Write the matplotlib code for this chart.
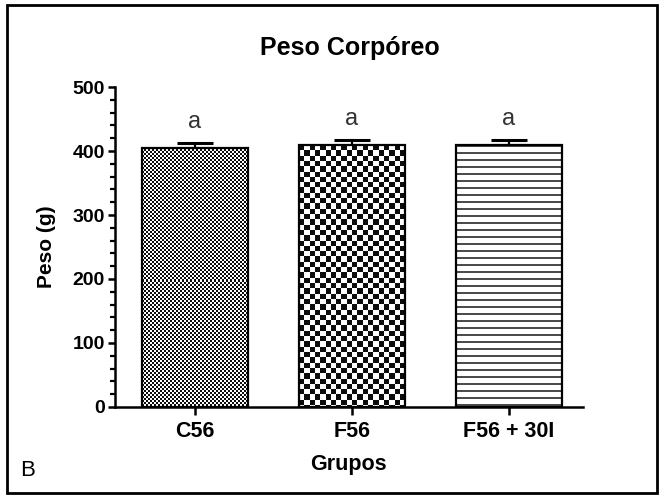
import numpy as np
import matplotlib
matplotlib.use("Agg")
import matplotlib.pyplot as plt
from matplotlib.patches import Rectangle

plt.rcParams['font.family'] = ['Liberation Sans', 'DejaVu Sans']

grupos = ["C56", "F56", "F56 + 30I"]
peso = [405, 409, 409]
erro = [7, 8, 8]
letras = ["a", "a", "a"]

fig = plt.figure(figsize=(6.6, 4.95), dpi=100)
ax = fig.add_axes([0.174, 0.178, 0.709, 0.646])

x = np.arange(len(grupos))
bars = ax.bar(x, peso, width=0.68, color="white", edgecolor="none", zorder=2)
ax.bar(x, peso, width=0.68, fill=False, edgecolor="black", linewidth=1.6, zorder=3)
ax.errorbar(x, peso, yerr=[np.zeros(len(erro)), erro], fmt="none",
            ecolor="black", elinewidth=1.6, capsize=13, capthick=2.2, zorder=1)

ax.set_xlim(-0.51, 2.47)
ax.set_ylim(0, 500)
fig.canvas.draw()


# pattern fill for each bar (fine checker, coarse checker, horizontal lines)
def pattern(kind, w, h, c):
    ny, nx = int(h / c) + 1, int(w / c) + 1
    if kind == "lines":
        rows = np.ones(ny)
        rows[np.arange(ny) % 7 < 2] = 0.3
        return np.tile(rows[:, None], (1, 4))
    yy, xx = np.mgrid[0:ny, 0:nx]
    return np.where((xx + yy) % 2 == 0, 0.05, 1.0)


kinds = ["fine", "coarse", "lines"]
cells = [2, 5.3, 1]
for b, k, c in zip(bars, kinds, cells):
    x0, y0 = b.get_x(), b.get_y()
    x1, y1 = x0 + b.get_width(), y0 + b.get_height()
    p0 = ax.transData.transform((x0, y0))
    p1 = ax.transData.transform((x1, y1))
    img = pattern(k, p1[0] - p0[0], p1[1] - p0[1], c)
    iy, ix = img.shape
    hdat = iy * c * (y1 - y0) / (p1[1] - p0[1])
    wdat = ix * c * (x1 - x0) / (p1[0] - p0[0]) if k != "lines" else (x1 - x0)
    ext = (x0, x0 + wdat, y1 - hdat, y1)
    im = ax.imshow(img, cmap="gray", vmin=0, vmax=1, extent=ext,
                   interpolation="nearest", aspect="auto", zorder=2.5,
                   origin="upper")
    im.set_clip_path(b)

ax.set_xlim(-0.51, 2.47)
ax.set_ylim(0, 500)

for xi, v, e, t in zip(x, peso, erro, letras):
    ax.text(xi, v + e + 16, t, ha="center", va="bottom", fontsize=17,
            color="#333333")

ax.spines["top"].set_visible(False)
ax.spines["right"].set_visible(False)
ax.spines["left"].set_linewidth(1.8)
ax.spines["bottom"].set_linewidth(1.8)

ax.set_yticks(np.arange(0, 501, 100))
ax.set_yticks(np.arange(0, 501, 20), minor=True)
ax.set_xticks(x)
ax.set_xticklabels(grupos)
ax.tick_params(axis="y", which="major", length=5, width=1.8, labelsize=14, pad=2)
ax.tick_params(axis="y", which="minor", length=3.5, width=1.6)
ax.tick_params(axis="x", length=6, width=1.8, labelsize=15.5, pad=4)
for lab in ax.get_xticklabels() + ax.get_yticklabels():
    lab.set_fontweight("bold")

ax.set_ylabel("Peso (g)", fontsize=15, fontweight="bold", labelpad=12)
ax.set_xlabel("Grupos", fontsize=15.5, fontweight="bold", labelpad=9)
fig.text(0.53, 0.903, "Peso Corpóreo", ha="center", va="center",
         fontsize=18, fontweight="bold")
fig.text(0.03, 0.05, "B", ha="left", va="center", fontsize=16)

fig.patches.append(Rectangle((0.011, 0.004), 0.984, 0.986, transform=fig.transFigure,
                             fill=False, edgecolor="black", linewidth=2))

fig.savefig("out.png", dpi=100)
